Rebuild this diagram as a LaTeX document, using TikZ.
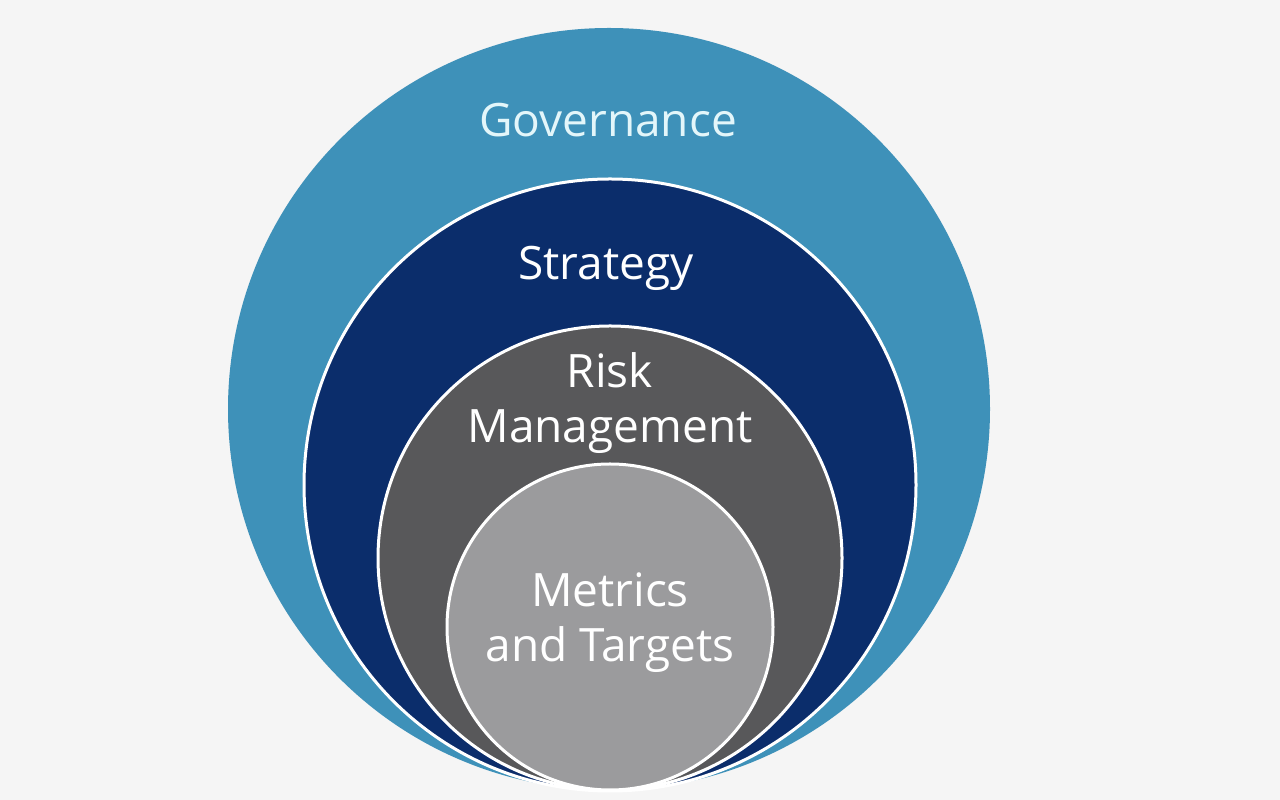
\documentclass[tikz,border=0pt]{standalone}
\usepackage{fontspec}
\setmainfont{Open Sans}
\usepackage{tikz}
\definecolor{govblue}{HTML}{3E91B9}
\definecolor{stratnavy}{HTML}{0B2D6B}
\definecolor{riskgray}{HTML}{58585A}
\definecolor{metricgray}{HTML}{9B9B9D}
\definecolor{govtext}{HTML}{E3F6FA}
\definecolor{bggray}{HTML}{F5F5F5}

\begin{document}
\begin{tikzpicture}[x=1pt,y=1pt,
  ringlabel/.style={font=\fontsize{46}{55}\selectfont,align=center,inner sep=0pt}]
\fill[bggray] (0,0) rectangle (1280,800);
\useasboundingbox (0,0) rectangle (1280,800);
% nested circles, all touching at the bottom
\fill[govblue] (609,391) circle (381);
\foreach \cy/\r/\col in {315/306/stratnavy,242/232/riskgray,173/163/metricgray}
  \filldraw[fill=\col,draw=white,line width=3pt] (610,\cy) circle (\r);
% labels (base = last line)
\node[ringlabel,anchor=base,text=govtext] (gov) at (608,663) {Governance};
\node[ringlabel,anchor=base,text=white] (strat) at (606,520) {Strategy};
\node[ringlabel,anchor=base,text=white] (risk) at (610,357) {Risk\\Management};
\node[ringlabel,anchor=base,text=white] (metric) at (610,138) {Metrics\\and Targets};
\end{tikzpicture}
\end{document}
